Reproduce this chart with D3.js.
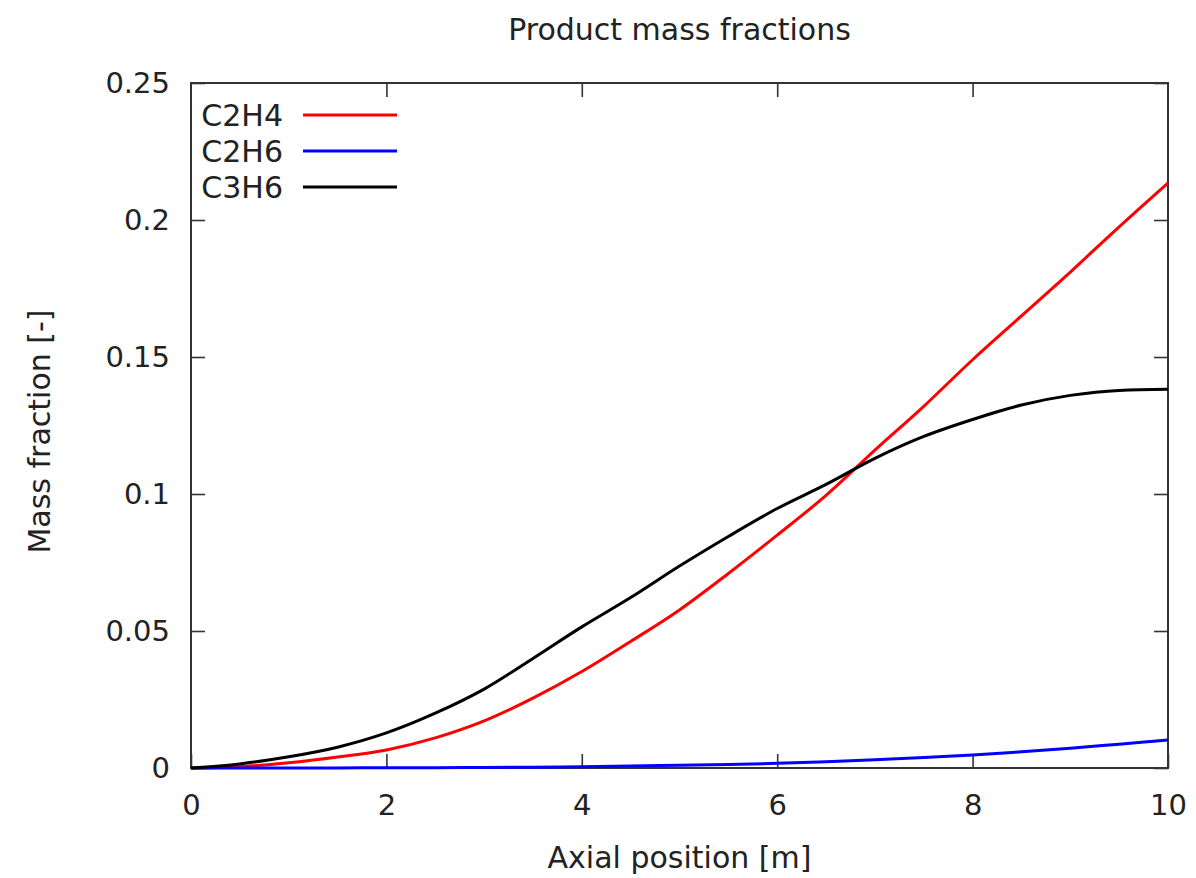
<!DOCTYPE html>
<html>
<head>
<meta charset="utf-8">
<script src="https://cdn.jsdelivr.net/npm/d3@7"></script>
<style>
  body { margin: 0; background: #fff; }
  text { font-family: "DejaVu Sans", sans-serif; fill: #222; }
</style>
</head>
<body>
<div id="chart"></div>
<script>
// axial position [m]
var xs = [0, 0.5, 1, 1.5, 2, 2.5, 3, 3.5, 4, 4.5, 5, 5.5, 6, 6.5, 7, 7.5, 8, 8.5, 9, 9.5, 10]

// mass fractions
var c2h4 = [0, 0.0005, 0.0019, 0.0040, 0.0066, 0.0110, 0.0172, 0.0255, 0.0352, 0.0462, 0.0577, 0.0710, 0.0850, 0.0995, 0.1160, 0.1320, 0.1490, 0.1650, 0.1810, 0.1975, 0.2135]
var c2h6 = [0, 0, 0, 0, 0.0001, 0.0001, 0.0002, 0.0003, 0.0005, 0.0007, 0.0010, 0.0013, 0.0017, 0.0023, 0.0030, 0.0038, 0.0047, 0.0059, 0.0072, 0.0087, 0.0102]
var c3h6 = [0, 0.0015, 0.0041, 0.0076, 0.0128, 0.0200, 0.0288, 0.0400, 0.0515, 0.0622, 0.0737, 0.0845, 0.0947, 0.1035, 0.1130, 0.1210, 0.1272, 0.1325, 0.1360, 0.1378, 0.1382]

var seriesNames = ['C2H4', 'C2H6', 'C3H6']
var seriesColors = ['#ff0000', '#0000ff', '#000000']
var xTicks = [0, 2, 4, 6, 8, 10]
var yTicks = [0, 0.05, 0.1, 0.15, 0.2, 0.25]

var W = 1196, H = 878
var margin = {left: 191, right: 28, top: 83, bottom: 110}
var width = W - margin.left - margin.right
var height = H - margin.top - margin.bottom

var svg = d3.select('#chart').append('svg')
  .attr('width', W).attr('height', H)

var g = svg.append('g').attr('transform', 'translate(' + margin.left + ',' + margin.top + ')')

var x = d3.scaleLinear().domain([0, 10]).range([0, width])
var y = d3.scaleLinear().domain([0, 0.25]).range([height, 0])

var tickLen = 14

// axes: labels outside, ticks drawn inward on all four sides
g.append('g').attr('transform', 'translate(0,' + height + ')')
  .call(d3.axisBottom(x).tickValues(xTicks).tickSizeInner(-tickLen).tickSizeOuter(0).tickPadding(26).tickFormat(d3.format('d')))
g.append('g').attr('transform', 'translate(' + width + ',0)')
  .call(d3.axisLeft(y).tickValues(yTicks).tickSizeInner(tickLen).tickSizeOuter(0).tickFormat(''))
g.append('g')
  .call(d3.axisLeft(y).tickValues(yTicks).tickSizeInner(-tickLen).tickSizeOuter(0).tickPadding(21).tickFormat(function(d){ return d === 0 ? '0' : String(d) }))
g.append('g')
  .call(d3.axisTop(x).tickValues(xTicks.slice(1, -1)).tickSizeInner(-tickLen).tickSizeOuter(0).tickFormat(''))

g.selectAll('.domain').remove()
g.selectAll('.tick line').attr('stroke', '#333').attr('stroke-width', 1.6)
g.selectAll('.tick text').style('font-size', '29px').attr('fill', '#222')

g.append('rect')
  .attr('width', width).attr('height', height)
  .attr('fill', 'none').attr('stroke', '#333').attr('stroke-width', 2)

// lines
var allSeries = [c2h4, c2h6, c3h6]
var line = d3.line()
  .x(function(d, i){ return x(xs[i]) })
  .y(function(d){ return y(d) })
  .curve(d3.curveMonotoneX)

allSeries.forEach(function(vals, i){
  g.append('path')
    .attr('d', line(vals))
    .attr('fill', 'none')
    .attr('stroke', seriesColors[i])
    .attr('stroke-width', 3)
    .attr('stroke-linejoin', 'round')
})

// legend
var leg = g.append('g')
seriesNames.forEach(function(name, i){
  var ly = 32 + i * 36
  leg.append('text')
    .attr('x', 92).attr('y', ly)
    .attr('dy', '0.36em')
    .attr('text-anchor', 'end')
    .style('font-size', '30px')
    .text(name)
  leg.append('line')
    .attr('x1', 112).attr('x2', 206)
    .attr('y1', ly).attr('y2', ly)
    .attr('stroke', seriesColors[i])
    .attr('stroke-width', 3)
})

// titles
svg.append('text')
  .attr('x', margin.left + width / 2).attr('y', 40)
  .attr('text-anchor', 'middle')
  .style('font-size', '30px')
  .text('Product mass fractions')

svg.append('text')
  .attr('x', margin.left + width / 2).attr('y', 868)
  .attr('text-anchor', 'middle')
  .style('font-size', '30px')
  .text('Axial position [m]')

svg.append('text')
  .attr('transform', 'translate(50,' + (margin.top + height / 2 + 6) + ') rotate(-90)')
  .attr('text-anchor', 'middle')
  .style('font-size', '30px')
  .text('Mass fraction [-]')
</script>
</body>
</html>
